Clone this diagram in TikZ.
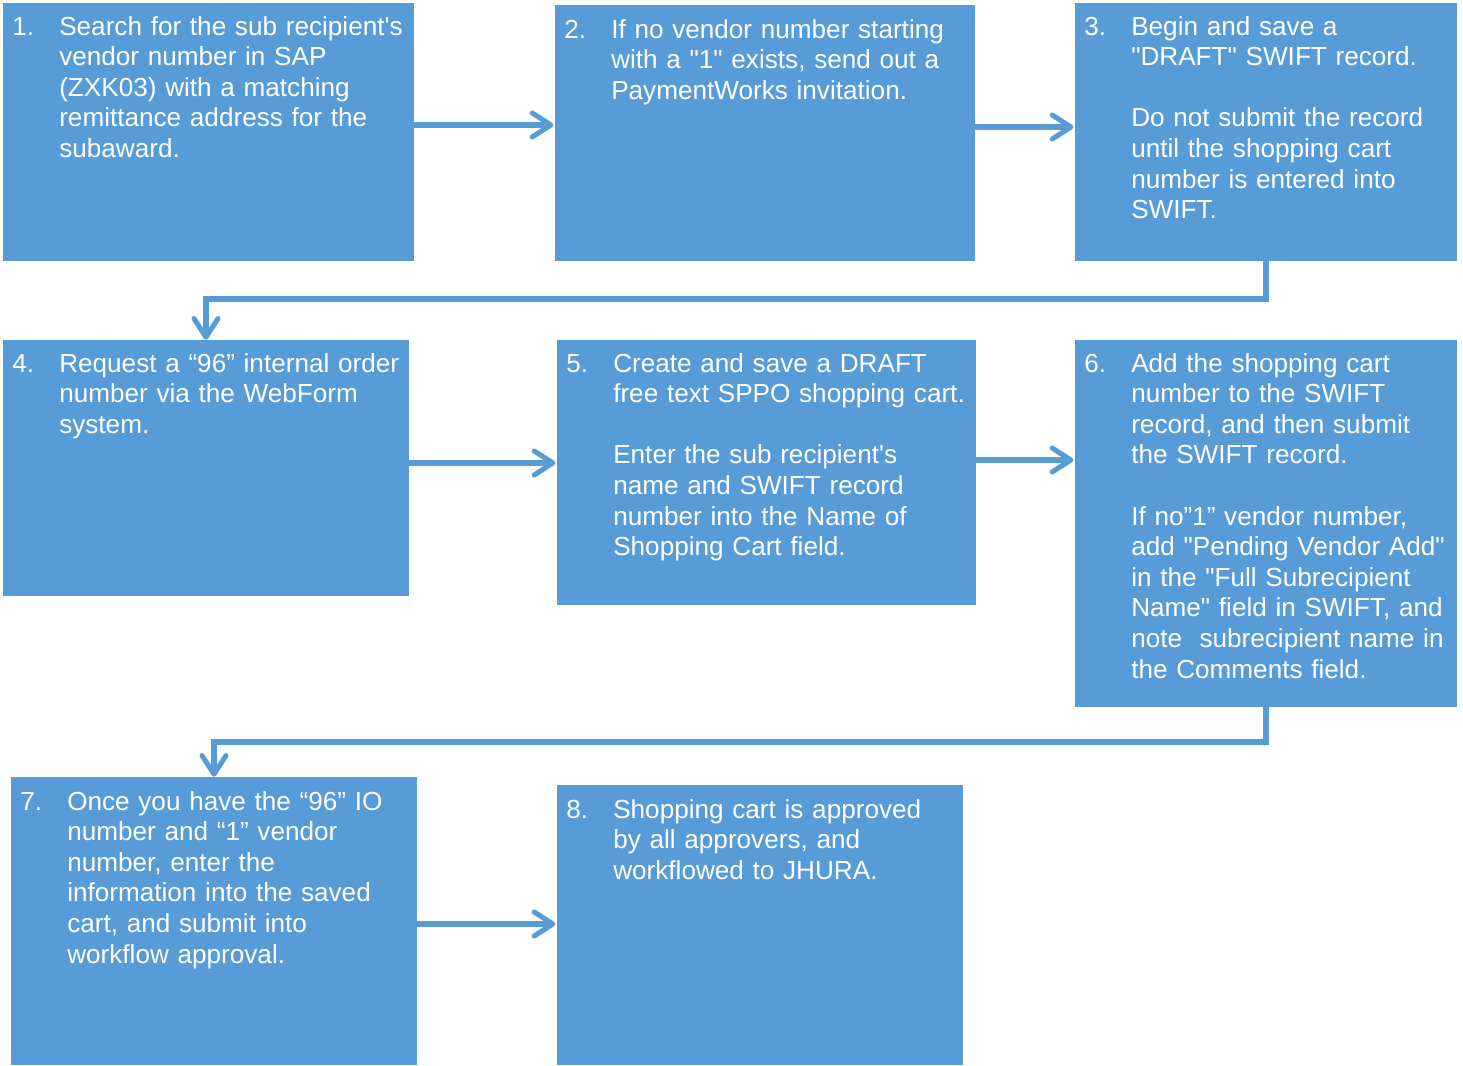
\documentclass[tikz,border=0pt]{standalone}
\usepackage{fontspec}
\setmainfont{Liberation Sans}[Ligatures=TeXOff]
\usetikzlibrary{arrows.meta,fit}
\definecolor{boxblue}{HTML}{579CD6}
\tikzset{
  box/.style={fill=boxblue, draw=none, inner sep=0pt},
  txt/.style={text=white, inner sep=0pt, anchor=base west, font=\fontsize{19.6}{22.95}\selectfont},
  body/.style={txt, text width=420pt, align=left},
  conn/.style={draw=boxblue, line width=3.8pt, -{Straight Barb[length=14pt,width=18pt,round]}},
  elbow/.style={conn, rounded corners=0pt}
}
\begin{document}
\begin{tikzpicture}[x=0.75pt,y=-0.75pt]
\useasboundingbox (0,0) rectangle (1463,1065);
% boxes
\node[box, fit={(3,3) (414,261)}] (b1) {};
\node[box, fit={(555,5) (975,261)}] (b2) {};
\node[box, fit={(1075,3) (1457,261)}] (b3) {};
\node[box, fit={(3,340) (409,596)}] (b4) {};
\node[box, fit={(557,340) (976,605)}] (b5) {};
\node[box, fit={(1075,340) (1457,707)}] (b6) {};
\node[box, fit={(11,777) (417,1065)}] (b7) {};
\node[box, fit={(557,785) (963,1065)}] (b8) {};
% numbers
\node[txt] (n1) at (12,35) {1.};
\node[txt] (n2) at (564,38) {2.};
\node[txt] (n3) at (1084,35) {3.};
\node[txt] (n4) at (12,372) {4.};
\node[txt] (n5) at (566,372) {5.};
\node[txt] (n6) at (1084,372) {6.};
\node[txt] (n7) at (20,810) {7.};
\node[txt] (n8) at (566,818) {8.};
% texts
\node[body] (t1) at (59,35) {Search for the sub recipient's\\vendor number in SAP\\(ZXK03) with a matching\\remittance address for the\\subaward.};
\node[body] (t2) at (611,38) {If no vendor number starting\\with a "1" exists, send out a\\PaymentWorks invitation.};
\node[body] (t3) at (1131,35) {Begin and save a\\"DRAFT" SWIFT record.\\[22.95pt]Do not submit the record\\until the shopping cart\\number is entered into\\SWIFT.};
\node[body] (t4) at (59,372) {Request a “96” internal order\\number via the WebForm\\system.};
\node[body] (t5) at (613,372) {Create and save a DRAFT\\free text SPPO shopping cart.\\[22.95pt]Enter the sub recipient's\\name and SWIFT record\\number into the Name of\\Shopping Cart field.};
\node[body] (t6) at (1131,372) {Add the shopping cart\\number to the SWIFT\\record, and then submit\\the SWIFT record.\\[22.95pt]If no”1” vendor number,\\add "Pending Vendor Add"\\in the "Full Subrecipient\\Name" field in SWIFT, and\\note\ \ subrecipient name in\\the Comments field.};
\node[body] (t7) at (67,810) {Once you have the “96” IO\\number and “1” vendor\\number, enter the\\information into the saved\\cart, and submit into\\workflow approval.};
\node[body] (t8) at (613,818) {Shopping cart is approved\\by all approvers, and\\workflowed to JHURA.};
% connectors
\coordinate (y12) at (0,125);
\coordinate (y23) at (0,127);
\coordinate (y45) at (0,463);
\coordinate (y56) at (0,460);
\coordinate (y78) at (0,924);
\coordinate (y34) at (0,299);
\coordinate (y67) at (0,742);
\draw[conn] (b1.east |- y12) -- ([xshift=-1pt]b2.west |- y12);
\draw[conn] (b2.east |- y23) -- ([xshift=-1pt]b3.west |- y23);
\draw[conn] (b4.east |- y45) -- ([xshift=-1pt]b5.west |- y45);
\draw[conn] (b5.east |- y56) -- ([xshift=-1pt]b6.west |- y56);
\draw[conn] (b7.east |- y78) -- ([xshift=-1pt]b8.west |- y78);
\draw[elbow] (b3.south) -- (b3.south |- y34) -| (b4.north);
\draw[elbow] (b6.south) -- (b6.south |- y67) -| (b7.north);
\end{tikzpicture}
\end{document}
